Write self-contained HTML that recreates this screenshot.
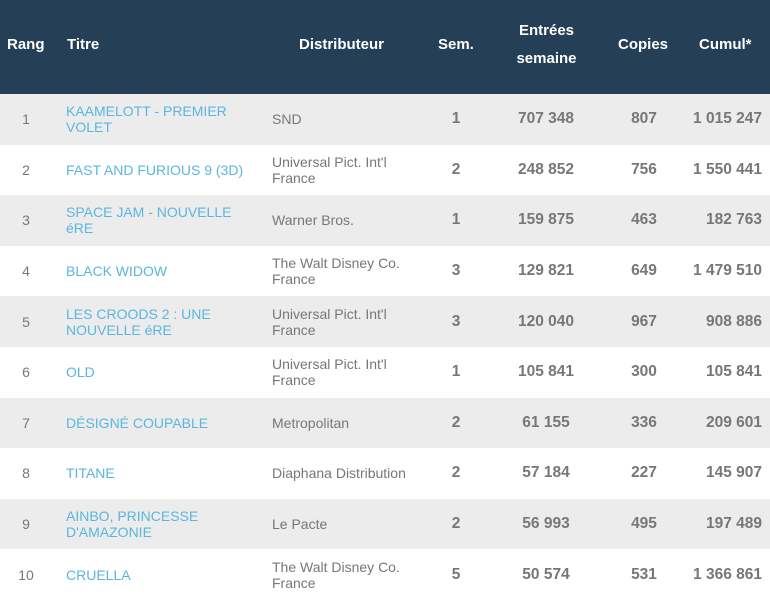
<!DOCTYPE html>
<html><head><meta charset="utf-8"><style>
body{margin:0;width:770px;height:600px;overflow:hidden;background:#fff;font-family:"Liberation Sans",Arial,sans-serif;}
.h{position:absolute;top:0;left:0;width:770px;height:94px;background:#243f56;}
.h div{position:absolute;color:#fff;font-weight:bold;font-size:15px;line-height:28px;}
.r{position:absolute;left:0;width:770px;height:50.6px;}
.r.g{background:#ececec;}
.r div{position:absolute;top:0;height:100%;display:flex;align-items:center;font-size:14px;line-height:16px;color:#777;}
.c1{left:0;width:52px;justify-content:center;}
.c2{left:66px;width:190px;color:#5ab6e0 !important;}
.c3{left:272px;width:150px;}
.c4{left:426px;width:60px;justify-content:center;font-weight:bold;font-size:15.5px !important;}
.c5{left:500px;width:92px;justify-content:center;font-weight:bold;font-size:15.5px !important;}
.c6{left:614px;width:60px;justify-content:center;font-weight:bold;font-size:15.5px !important;}
.c7{left:670px;width:92px;justify-content:flex-end;font-weight:bold;font-size:15.5px !important;}
</style></head><body>
<div class="h">
<div style="left:7px;top:31px">Rang</div>
<div style="left:67px;top:31px">Titre</div>
<div style="left:299px;top:31px">Distributeur</div>
<div style="left:438px;top:31px">Sem.</div>
<div style="left:514px;top:17px;width:65px;text-align:center">Entrées<br>semaine</div>
<div style="left:618px;top:31px">Copies</div>
<div style="left:699px;top:31px">Cumul*</div>
</div>
<div class="r g" style="top:94px"><div class="c1">1</div><div class="c2">KAAMELOTT - PREMIER VOLET</div><div class="c3">SND</div><div class="c4">1</div><div class="c5">707 348</div><div class="c6">807</div><div class="c7">1 015 247</div></div>
<div class="r" style="top:144.6px"><div class="c1">2</div><div class="c2">FAST AND FURIOUS 9 (3D)</div><div class="c3">Universal Pict. Int'l France</div><div class="c4">2</div><div class="c5">248 852</div><div class="c6">756</div><div class="c7">1 550 441</div></div>
<div class="r g" style="top:195.2px"><div class="c1">3</div><div class="c2">SPACE JAM - NOUVELLE éRE</div><div class="c3">Warner Bros.</div><div class="c4">1</div><div class="c5">159 875</div><div class="c6">463</div><div class="c7">182 763</div></div>
<div class="r" style="top:245.8px"><div class="c1">4</div><div class="c2">BLACK WIDOW</div><div class="c3">The Walt Disney Co. France</div><div class="c4">3</div><div class="c5">129 821</div><div class="c6">649</div><div class="c7">1 479 510</div></div>
<div class="r g" style="top:296.4px"><div class="c1">5</div><div class="c2">LES CROODS 2 : UNE NOUVELLE éRE</div><div class="c3">Universal Pict. Int'l France</div><div class="c4">3</div><div class="c5">120 040</div><div class="c6">967</div><div class="c7">908 886</div></div>
<div class="r" style="top:347px"><div class="c1">6</div><div class="c2">OLD</div><div class="c3">Universal Pict. Int'l France</div><div class="c4">1</div><div class="c5">105 841</div><div class="c6">300</div><div class="c7">105 841</div></div>
<div class="r g" style="top:397.6px"><div class="c1">7</div><div class="c2">DÉSIGNÉ COUPABLE</div><div class="c3">Metropolitan</div><div class="c4">2</div><div class="c5">61 155</div><div class="c6">336</div><div class="c7">209 601</div></div>
<div class="r" style="top:448.2px"><div class="c1">8</div><div class="c2">TITANE</div><div class="c3">Diaphana Distribution</div><div class="c4">2</div><div class="c5">57 184</div><div class="c6">227</div><div class="c7">145 907</div></div>
<div class="r g" style="top:498.8px"><div class="c1">9</div><div class="c2">AINBO, PRINCESSE D'AMAZONIE</div><div class="c3">Le Pacte</div><div class="c4">2</div><div class="c5">56 993</div><div class="c6">495</div><div class="c7">197 489</div></div>
<div class="r" style="top:549.4px"><div class="c1">10</div><div class="c2">CRUELLA</div><div class="c3">The Walt Disney Co. France</div><div class="c4">5</div><div class="c5">50 574</div><div class="c6">531</div><div class="c7">1 366 861</div></div>
</body></html>
